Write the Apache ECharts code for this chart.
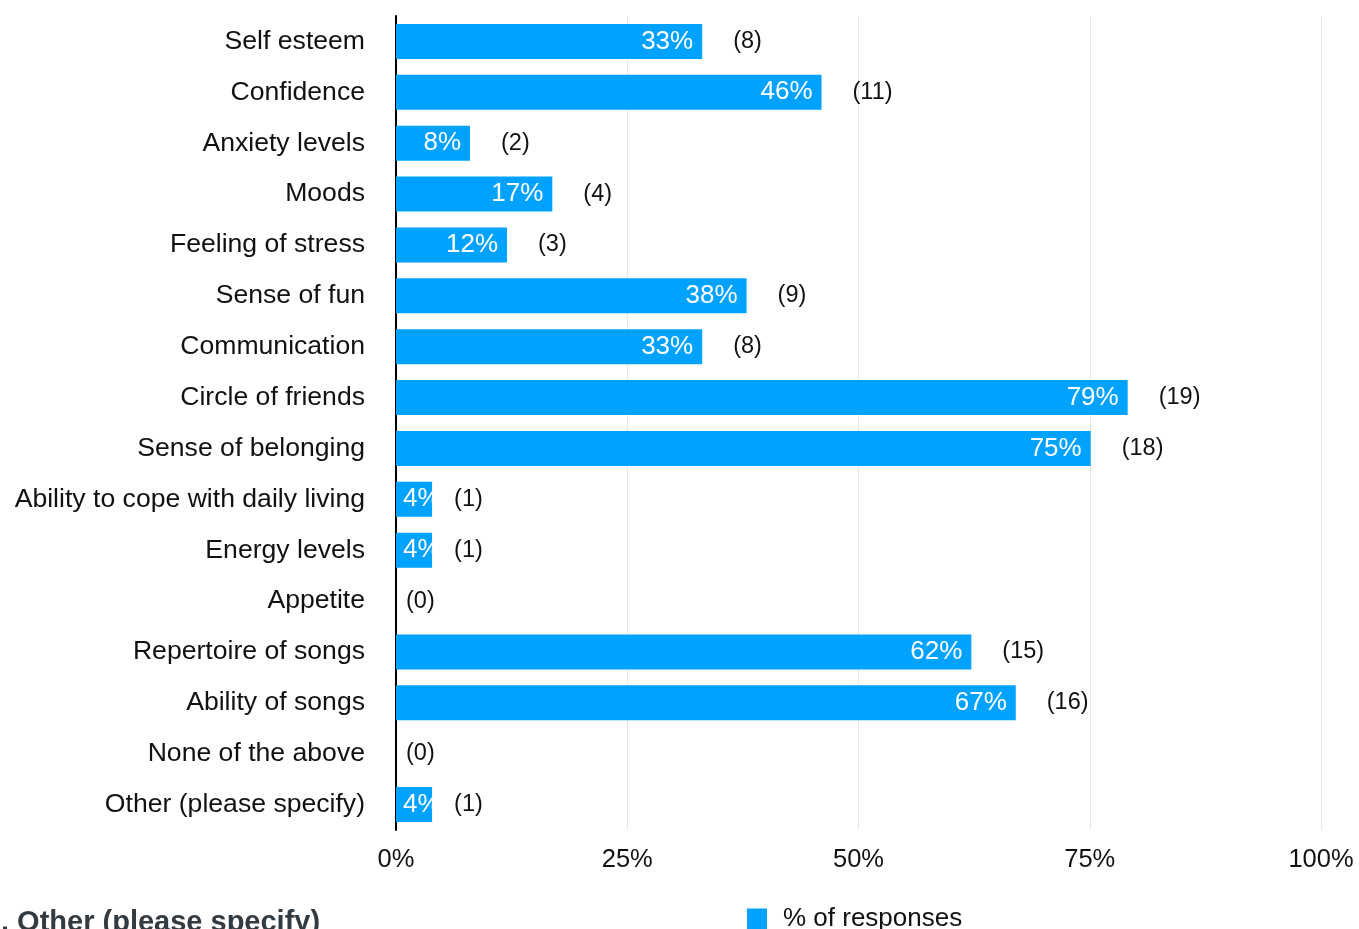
<!DOCTYPE html>
<html>
<head>
<meta charset="utf-8">
<script src="https://cdn.jsdelivr.net/npm/echarts@6/dist/echarts.min.js"></script>
<style>
html,body{margin:0;padding:0;background:#fff;}
#chart{width:1359px;height:929px;}
</style>
</head>
<body>
<div id="chart"></div>
<script>
const categories = ["Self esteem","Confidence","Anxiety levels","Moods","Feeling of stress","Sense of fun","Communication","Circle of friends","Sense of belonging","Ability to cope with daily living","Energy levels","Appetite","Repertoire of songs","Ability of songs","None of the above","Other (please specify)"];
const percentValues = [33.1,46.0,8.0,16.9,12.0,37.9,33.1,79.1,75.1,3.9,3.9,0,62.2,67.0,0,3.9];
const responseCounts = [8,11,2,4,3,9,8,19,18,1,1,0,15,16,0,1];
const xTicks = [0,25,50,75,100];

const FONT = '"Liberation Sans", Arial, Helvetica, sans-serif';
const BLUE = '#00A2FF';

const chart = echarts.init(document.getElementById('chart'), null, {renderer:'canvas'});

const mainData = percentValues.map(v => {
  if (v === 0) return {value: v, label: {show: false}};
  if (v < 6) return {value: v, label: {position: 'insideLeft', distance: 7}};
  return v;
});
const countData = percentValues.map((v, i) => ({
  value: v,
  label: {distance: v === 0 ? 10 : (v < 6 ? 22 : 31)}
}));

chart.setOption({
  animation: false,
  grid: {left: 396, right: 38, top: 16, bottom: 99, containLabel: false},
  legend: {
    data: ['% of responses'],
    left: 742, top: 901,
    itemWidth: 20, itemHeight: 21, itemGap: 20,
    icon: 'rect',
    textStyle: {fontFamily: FONT, fontSize: 26, color: '#111', padding: [0,0,0,11]}
  },
  graphic: [{
    type: 'text', left: 1, top: 908,
    style: {text: '. Other (please specify)', font: 'bold 29px ' + FONT, fill: '#333b42'}
  }],
  xAxis: {
    type: 'value', min: 0, max: 100, interval: 25,
    axisLine: {show: false}, axisTick: {show: false},
    splitLine: {lineStyle: {color: '#e6e6e6', width: 1}},
    axisLabel: {
      formatter: v => xTicks.includes(v) ? v + '%' : '',
      fontFamily: FONT, fontSize: 25.5, color: '#111', margin: 17
    }
  },
  yAxis: {
    type: 'category', data: categories, inverse: true,
    axisTick: {show: false},
    axisLine: {show: true, lineStyle: {color: '#000', width: 2}},
    axisLabel: {fontFamily: FONT, fontSize: 26.6, color: '#111', margin: 31}
  },
  series: [
    {
      name: '% of responses', type: 'bar', data: mainData, barWidth: 35,
      itemStyle: {color: BLUE},
      z: 2,
      label: {
        show: true, position: 'insideRight', distance: 9,
        color: '#fff', fontFamily: FONT, fontSize: 26,
        formatter: p => Math.round(p.value) + '%'
      }
    },
    {
      name: 'counts', type: 'bar', data: countData, barWidth: 35, barGap: '-100%',
      itemStyle: {color: 'rgba(0,0,0,0)'},
      silent: true, z: 1,
      label: {
        show: true, position: 'right',
        color: '#111', fontFamily: FONT, fontSize: 23.5,
        formatter: p => '(' + responseCounts[p.dataIndex] + ')'
      }
    }
  ]
});
</script>
</body>
</html>
